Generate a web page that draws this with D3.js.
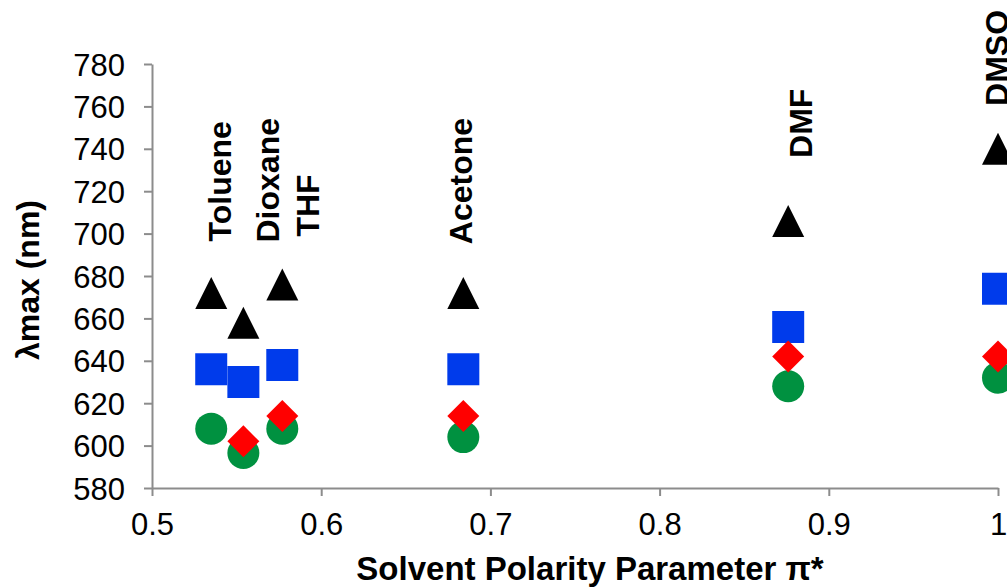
<!DOCTYPE html>
<html>
<head>
<meta charset="utf-8">
<script src="https://cdn.jsdelivr.net/npm/d3@7"></script>
<style>
  html, body { margin: 0; padding: 0; background: #fff; }
  svg { display: block; font-family: "Liberation Sans", Arial, sans-serif; }
</style>
</head>
<body>
<svg id="chart" width="1007" height="588"></svg>
<script>
// ---- data ----
const solvents = ["Toluene", "Dioxane", "THF", "Acetone", "DMF", "DMSO"];
const piStar   = [0.535, 0.554, 0.577, 0.684, 0.876, 1.0];
const seriesTriangle = [672, 658, 676, 672, 706, 740];
const seriesSquare   = [636, 630, 638, 636, 656, 674];
const seriesDiamond  = [null, 602, 614, 614, 642, 642];
const seriesCircle   = [608, 596.5, 608, 604, 628, 632];
// label anchor (in data units): x centre, y start
const labelX = [0.5396, 0.5680, 0.5916, 0.6826, 0.8834, 0.9988];
const labelY = [696.3, 695.8, 698.6, 695, 735.7, 760.2];
const xTicks = [0.5, 0.6, 0.7, 0.8, 0.9, 1.0];
const yTicks = [580, 600, 620, 640, 660, 680, 700, 720, 740, 760, 780];

// ---- layout ----
const svg = d3.select("#chart");
const x = d3.scaleLinear().domain([0.5, 1.0]).range([152, 998]);
const y = d3.scaleLinear().domain([580, 780]).range([488, 64]);
const axisColor = "#8c8c8c";

// axes
const gx = svg.append("g").attr("transform", `translate(0,${y(580)})`)
  .call(d3.axisBottom(x).tickValues(xTicks).tickSize(8).tickSizeOuter(0)
    .tickFormat(d => d === 1 ? "1" : d3.format(".1f")(d)));
gx.select(".domain").attr("stroke", axisColor).attr("stroke-width", 2);
gx.selectAll(".tick line").attr("stroke", axisColor).attr("stroke-width", 2);
gx.selectAll(".tick text").attr("y", 47).attr("dy", 0)
  .attr("font-size", 31).attr("font-family", "Liberation Sans, Arial, sans-serif").attr("fill", "#000");

const gy = svg.append("g").attr("transform", `translate(${x(0.5)},0)`)
  .call(d3.axisLeft(y).tickValues(yTicks).tickSize(8).tickSizeOuter(0).tickPadding(19));
gy.select(".domain").attr("stroke", axisColor).attr("stroke-width", 2);
gy.selectAll(".tick line").attr("stroke", axisColor).attr("stroke-width", 2);
gy.selectAll(".tick text").attr("dy", "0.36em")
  .attr("font-size", 31).attr("font-family", "Liberation Sans, Arial, sans-serif").attr("fill", "#000");

// axis titles
svg.append("text").attr("x", 590).attr("y", 580).attr("text-anchor", "middle")
  .attr("font-size", 33).attr("font-weight", "bold").text("Solvent Polarity Parameter π*");
svg.append("text").attr("transform", `translate(39,${(y(580)+y(780))/2 + 4}) rotate(-90)`)
  .attr("text-anchor", "middle").attr("font-size", 32).attr("font-weight", "bold").text("λmax (nm)");

// custom symbols
const triType = { draw(ctx, size) { const w = Math.sqrt(size), h = w / 2;
  ctx.moveTo(0, -h); ctx.lineTo(h, h); ctx.lineTo(-h, h); ctx.closePath(); } };
const diaType = { draw(ctx, size) { const h = Math.sqrt(size) / 2;
  ctx.moveTo(0, -h); ctx.lineTo(h, 0); ctx.lineTo(0, h); ctx.lineTo(-h, 0); ctx.closePath(); } };

const series = [
  { vals: seriesCircle,   sym: d3.symbol(d3.symbolCircle, Math.PI * 16 * 16), color: "#009140" },
  { vals: seriesSquare,   sym: d3.symbol(d3.symbolSquare, 32 * 32),           color: "#003BEB" },
  { vals: seriesDiamond,  sym: d3.symbol(diaType, 32 * 32),                   color: "#FF0000" },
  { vals: seriesTriangle, sym: d3.symbol(triType, 32 * 32),                   color: "#000000" }
];
series.forEach(s => {
  svg.append("g").selectAll("path")
    .data(piStar.map((p, i) => ({ p, v: s.vals[i] })).filter(d => d.v != null))
    .join("path")
    .attr("transform", d => `translate(${x(d.p)},${y(d.v)})`)
    .attr("d", s.sym())
    .attr("fill", s.color);
});

// solvent labels
svg.append("g").selectAll("text").data(solvents).join("text")
  .attr("transform", (d, i) => `translate(${x(labelX[i])},${y(labelY[i])}) rotate(-90)`)
  .attr("dy", "0.36em").attr("font-size", 32).attr("font-weight", "bold")
  .text(d => d);
</script>
</body>
</html>
